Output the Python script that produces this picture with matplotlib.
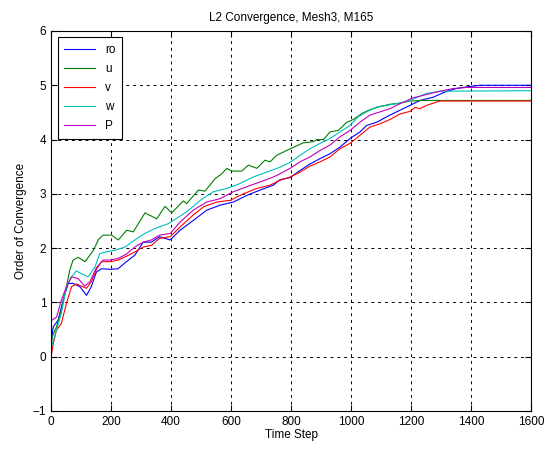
import matplotlib
matplotlib.use("Agg")
import matplotlib.pyplot as plt

plt.rcParams['font.family'] = ['Liberation Sans', 'DejaVu Sans']
plt.rcParams['font.size'] = 8

# values (time step, order of convergence)
ro_steps = [0, 1, 7, 23, 40, 57, 73, 96, 118, 134, 151, 168, 196, 223, 251, 279, 307, 334, 362,
            397, 430, 474, 519, 563, 608, 652, 697, 741, 763, 797, 830, 863, 897, 930, 963, 997,
            1030, 1052, 1086, 1119, 1152, 1197, 1230, 1274, 1319, 1352, 1386, 1430, 1600]
ro_vals = [0, 0.30, 0.55, 0.67, 1.04, 1.35, 1.35, 1.29, 1.13, 1.29, 1.56, 1.62, 1.61, 1.62, 1.75,
           1.87, 2.11, 2.11, 2.21, 2.15, 2.33, 2.51, 2.70, 2.79, 2.85, 2.97, 3.07, 3.16, 3.26, 3.30,
           3.43, 3.55, 3.65, 3.74, 3.86, 4.02, 4.14, 4.26, 4.32, 4.42, 4.51, 4.63, 4.72, 4.78, 4.89,
           4.94, 4.97, 5.0, 5.0]

u_steps = [0, 3, 18, 34, 51, 62, 73, 90, 113, 141, 158, 173, 202, 224, 252, 274, 313, 352, 380,
           402, 441, 452, 491, 513, 547, 569, 586, 602, 636, 658, 686, 713, 730, 752, 797, 841, 874,
           886, 908, 930, 958, 986, 1008, 1036, 1063, 1097, 1130, 1163, 1197, 1240, 1600]
u_vals = [0, 0.36, 0.55, 0.86, 1.29, 1.59, 1.78, 1.83, 1.75, 1.96, 2.16, 2.24, 2.24, 2.15, 2.33,
          2.30, 2.65, 2.54, 2.77, 2.65, 2.87, 2.82, 3.07, 3.05, 3.28, 3.37, 3.47, 3.42, 3.42, 3.53,
          3.47, 3.62, 3.59, 3.71, 3.83, 3.94, 3.96, 4.0, 4.0, 4.14, 4.17, 4.32, 4.37, 4.48, 4.55,
          4.61, 4.65, 4.67, 4.71, 4.72, 4.72]

v_steps = [0, 7, 18, 34, 51, 68, 84, 101, 118, 134, 151, 168, 196, 223, 251, 279, 307, 334, 362,
           397, 430, 474, 508, 552, 597, 641, 686, 730, 763, 797, 830, 863, 897, 930, 963, 997,
           1030, 1063, 1097, 1130, 1163, 1197, 1213, 1230, 1252, 1274, 1297, 1600]
v_vals = [0, 0.24, 0.49, 0.61, 0.98, 1.29, 1.34, 1.30, 1.26, 1.38, 1.61, 1.75, 1.75, 1.78, 1.85,
          1.93, 2.02, 2.05, 2.18, 2.21, 2.39, 2.61, 2.76, 2.85, 2.88, 3.00, 3.10, 3.16, 3.25, 3.31,
          3.40, 3.51, 3.59, 3.68, 3.83, 3.93, 4.08, 4.23, 4.29, 4.37, 4.47, 4.52, 4.59, 4.57, 4.63,
          4.67, 4.71, 4.71]

w_steps = [0, 1, 18, 34, 51, 68, 84, 101, 123, 146, 162, 184, 212, 246, 279, 312, 346, 390, 408,
           452, 497, 541, 586, 630, 674, 719, 763, 797, 830, 863, 897, 930, 963, 997, 1024, 1052,
           1086, 1119, 1152, 1197, 1252, 1297, 1600]
w_vals = [0, 0.18, 0.49, 0.80, 1.29, 1.47, 1.58, 1.53, 1.47, 1.65, 1.90, 1.93, 1.96, 2.02, 2.15,
          2.27, 2.36, 2.45, 2.51, 2.67, 2.88, 3.04, 3.10, 3.19, 3.31, 3.40, 3.49, 3.58, 3.71, 3.83,
          3.93, 4.02, 4.14, 4.26, 4.42, 4.51, 4.60, 4.63, 4.66, 4.72, 4.85, 4.89, 4.90]

p_steps = [0, 1, 18, 34, 51, 68, 90, 112, 129, 151, 173, 196, 223, 251, 279, 307, 334, 362, 397,
           430, 474, 519, 563, 608, 652, 697, 741, 763, 797, 830, 863, 897, 930, 963, 997, 1030,
           1063, 1097, 1130, 1163, 1208, 1252, 1297, 1341, 1386, 1600]
p_vals = [0, 0.67, 0.73, 1.04, 1.29, 1.47, 1.44, 1.30, 1.38, 1.64, 1.78, 1.78, 1.81, 1.89, 2.02,
          2.11, 2.15, 2.24, 2.27, 2.48, 2.70, 2.85, 2.91, 3.04, 3.13, 3.22, 3.31, 3.37, 3.47, 3.59,
          3.68, 3.80, 3.90, 4.05, 4.17, 4.32, 4.45, 4.51, 4.57, 4.66, 4.77, 4.83, 4.89, 4.94, 4.96,
          4.96]

labels = ["ro", "u", "v", "w", "P"]
colors = [(0, 0, 1), (0, 0.5, 0), (1, 0, 0), (0, 0.75, 0.75), (0.75, 0, 0.75)]

fig = plt.figure(figsize=(5.44, 4.51), dpi=100)
ax = fig.add_axes([0.094, 0.0887, 0.882, 0.8426])

series = [(ro_steps, ro_vals), (u_steps, u_vals), (v_steps, v_vals),
          (w_steps, w_vals), (p_steps, p_vals)]
for (xs, ys), lab, c in zip(series, labels, colors):
    ax.plot(xs, ys, color=c, lw=0.8, label=lab)

ax.set_xlim(0, 1600)
ax.set_ylim(-1, 6)
ax.set_xticks(range(0, 1601, 200))
ax.set_yticks(range(-1, 7))
ax.grid(True, color='black', linestyle=(0, (3, 4)), lw=0.7)
ax.tick_params(direction='in', top=True, right=True, length=4, labelsize=8.5)
for s in ax.spines.values():
    s.set_linewidth(0.8)

ax.set_title("L2 Convergence, Mesh3, M165", fontsize=8.5, pad=7)
ax.set_xlabel("Time Step", labelpad=1, fontsize=8.5)
ax.set_ylabel("Order of Convergence", labelpad=4, fontsize=8.5)

leg = ax.legend(loc='upper left', fancybox=False, framealpha=1, edgecolor='black',
                handlelength=2.6, handletextpad=0.9, borderpad=0.55, borderaxespad=0.55,
                labelspacing=0.6, fontsize=8.5)
leg.get_frame().set_linewidth(0.8)

fig.savefig("out.png", dpi=100)
